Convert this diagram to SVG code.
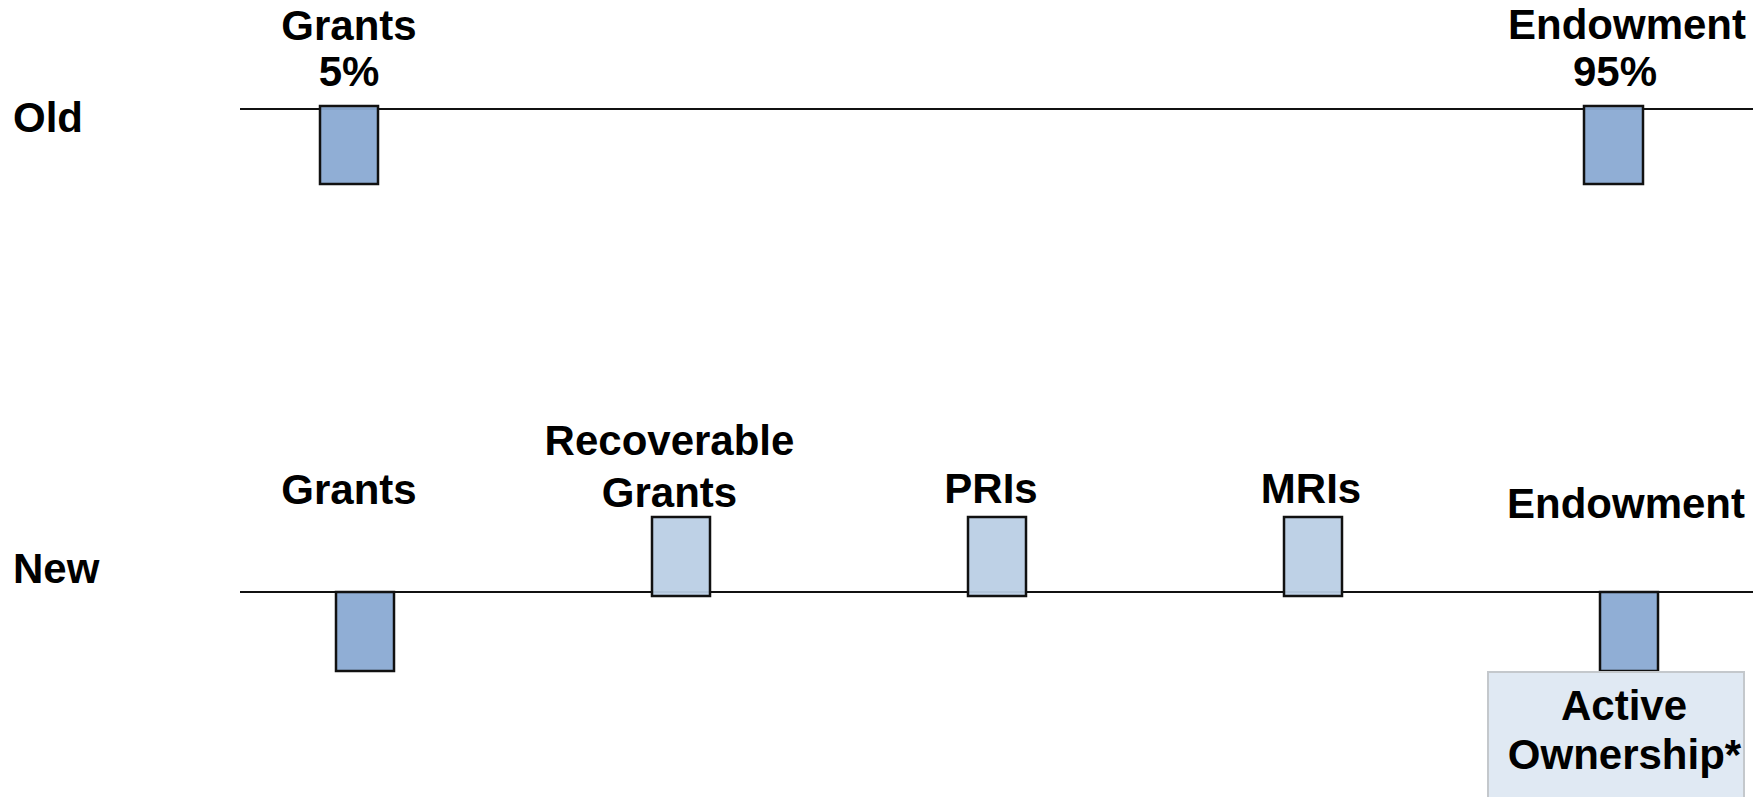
<svg xmlns="http://www.w3.org/2000/svg" width="1763" height="797" viewBox="0 0 1763 797">
<style>
  text { font-family: "Liberation Sans", Arial, sans-serif; font-weight: bold; font-size: 42px; fill: #000; }
  .c { text-anchor: middle; }
  .axis { stroke: #111; stroke-width: 2; fill: none; }
  .dark { fill: #8aaad3; fill-opacity: 0.95; stroke: #111; stroke-width: 2.5; }
  .light { fill: #bbcfe5; fill-opacity: 0.95; stroke: #111; stroke-width: 2.5; }
  .note { fill: #e0e9f3; stroke: #c4c8cc; stroke-width: 2; }
</style>
<rect width="1763" height="797" fill="#fff"/>
<g id="connectors">
  <line class="axis" x1="240" y1="109" x2="1753" y2="109"/>
  <line class="axis" x1="240" y1="592" x2="1753" y2="592"/>
</g>
<g id="label-old"><text x="13" y="132">Old</text></g>
<g id="label-new"><text x="13" y="583">New</text></g>
<g id="old-grants">
  <rect class="dark" x="320" y="106" width="58" height="78"/>
  <text class="c" x="349" y="40">Grants</text>
  <text class="c" x="349" y="86">5%</text>
</g>
<g id="old-endowment">
  <rect class="dark" x="1584" y="106" width="59" height="78"/>
  <text class="c" x="1627" y="39">Endowment</text>
  <text class="c" x="1615" y="86">95%</text>
</g>
<g id="new-grants">
  <rect class="dark" x="336" y="592" width="58" height="79"/>
  <text class="c" x="349" y="504">Grants</text>
</g>
<g id="new-recoverable">
  <rect class="light" x="652" y="517" width="58" height="79"/>
  <text class="c" x="669.5" y="455">Recoverable</text>
  <text class="c" x="669.5" y="507">Grants</text>
</g>
<g id="new-pris">
  <rect class="light" x="968" y="517" width="58" height="79"/>
  <text class="c" x="991" y="503">PRIs</text>
</g>
<g id="new-mris">
  <rect class="light" x="1284" y="517" width="58" height="79"/>
  <text class="c" x="1311" y="503">MRIs</text>
</g>
<g id="new-endowment">
  <rect class="dark" x="1600" y="592" width="58" height="79"/>
  <text class="c" x="1626" y="518">Endowment</text>
</g>
<g id="active-ownership">
  <rect class="note" x="1488" y="672" width="256" height="135"/>
  <text class="c" x="1624" y="720">Active</text>
  <text class="c" x="1624.5" y="769">Ownership*</text>
</g>
</svg>
